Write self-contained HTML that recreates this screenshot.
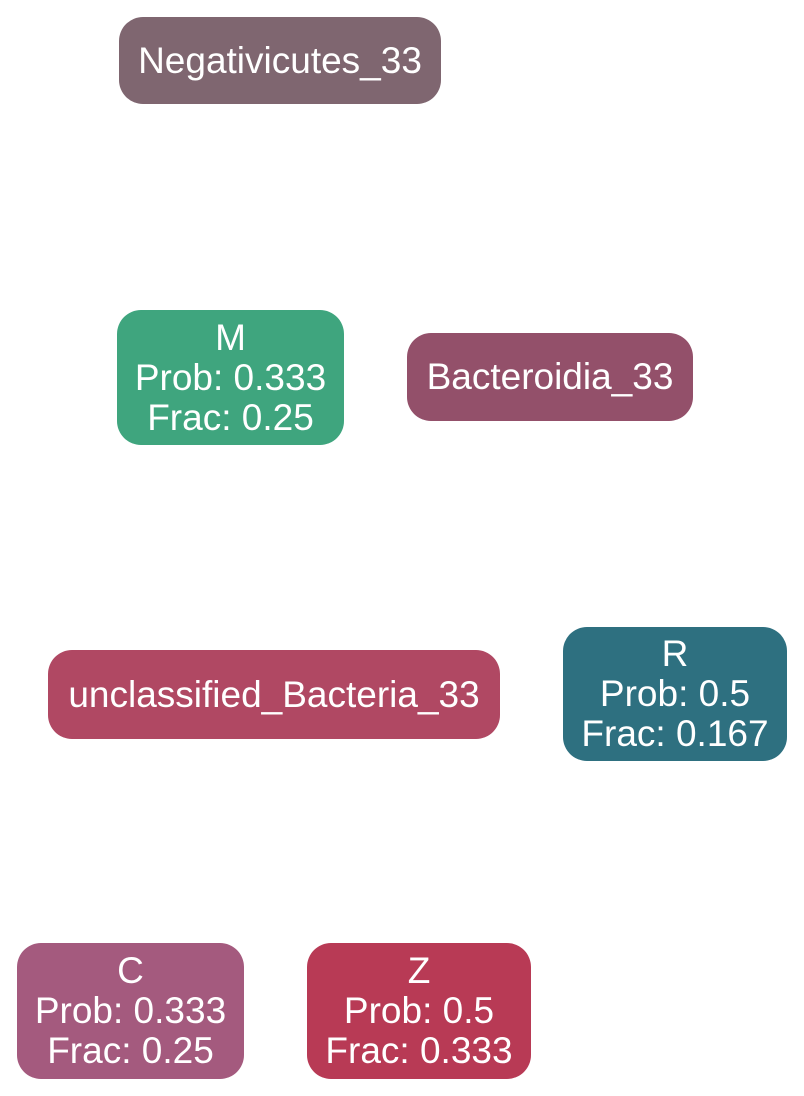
<!DOCTYPE html>
<html><head><meta charset="utf-8"><style>
html,body{margin:0;padding:0;background:#fff;}
body{width:804px;height:1096px;position:relative;overflow:hidden;font-family:"Liberation Sans",Arial,sans-serif;}
.n{position:absolute;box-sizing:border-box;border-radius:24px;color:#fff;font-size:37px;line-height:40px;display:flex;flex-direction:column;align-items:center;justify-content:center;text-align:center;white-space:nowrap;}
</style></head><body>
<div class="n" style="left:119px;top:17px;width:322px;height:87px;background:#7f6670;">Negativicutes_33</div>
<div class="n" style="left:117px;top:310px;width:227px;height:135px;background:#3fa57e;"><div>M</div><div>Prob: 0.333</div><div>Frac: 0.25</div></div>
<div class="n" style="left:407px;top:333px;width:286px;height:88px;background:#93506a;">Bacteroidia_33</div>
<div class="n" style="left:48px;top:650px;width:452px;height:89px;background:#b04863;">unclassified_Bacteria_33</div>
<div class="n" style="left:563px;top:627px;width:224px;height:134px;background:#2e7080;"><div>R</div><div>Prob: 0.5</div><div>Frac: 0.167</div></div>
<div class="n" style="left:17px;top:943px;width:227px;height:136px;background:#a45a7e;"><div>C</div><div>Prob: 0.333</div><div>Frac: 0.25</div></div>
<div class="n" style="left:307px;top:943px;width:224px;height:136px;background:#b83a55;"><div>Z</div><div>Prob: 0.5</div><div>Frac: 0.333</div></div>
</body></html>
